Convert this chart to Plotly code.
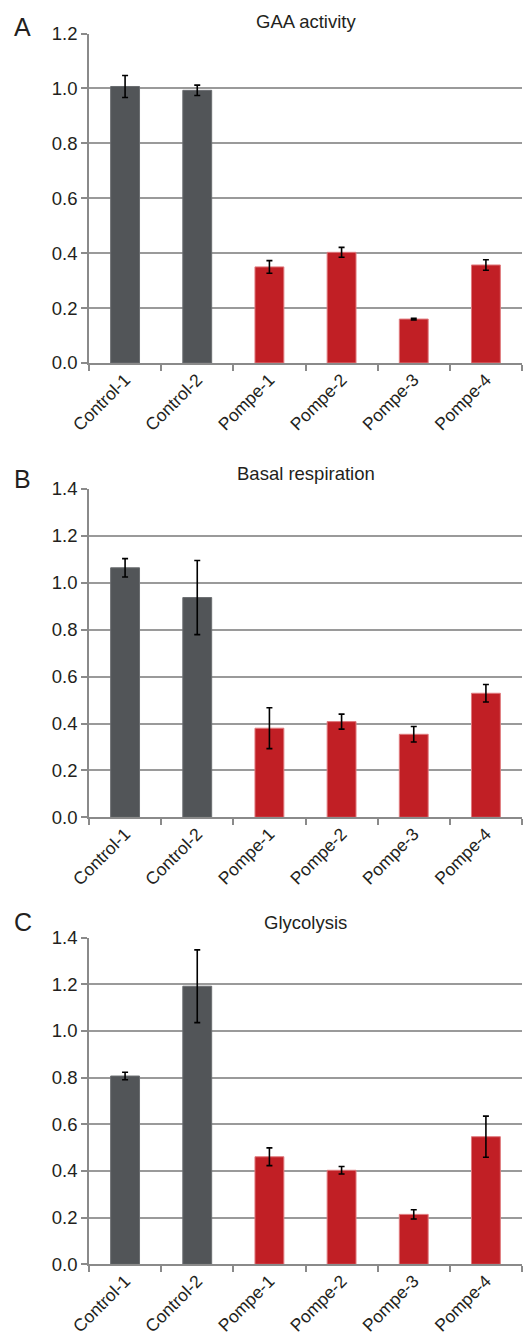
import plotly.graph_objects as go

categories = ["Control-1", "Control-2", "Pompe-1", "Pompe-2", "Pompe-3", "Pompe-4"]

gaa_values = [1.007, 0.993, 0.350, 0.403, 0.160, 0.357]
gaa_errors = [0.040, 0.019, 0.023, 0.018, 0.003, 0.019]

basal_values = [1.064, 0.937, 0.380, 0.408, 0.354, 0.529]
basal_errors = [0.039, 0.158, 0.087, 0.032, 0.033, 0.037]

glyco_values = [0.807, 1.192, 0.461, 0.403, 0.214, 0.547]
glyco_errors = [0.016, 0.156, 0.038, 0.016, 0.020, 0.088]

panel_titles = ["GAA activity", "Basal respiration", "Glycolysis"]
panel_letters = ["A", "B", "C"]
y_max = [1.2, 1.4, 1.4]

GRAY = "#525558"
RED = "#c11f25"
bar_colors = [GRAY, GRAY, RED, RED, RED, RED]
bar_lines = ["#6a6d70", "#6a6d70", "#e07a7e", "#e07a7e", "#e07a7e", "#e07a7e"]

W, H = 523, 1338
# page pixel positions (top of range, zero line) of each panel
panel_px = [(33.5, 363.0), (489.0, 817.3), (937.7, 1264.3)]
title_px = [21, 473, 922]
letter_px = [27, 479, 922]

FONT = "Liberation Sans, Arial, sans-serif"
TXT = "#231f20"
GRID = "#9a9a9a"
AX = "#8a8a8a"

LEFT = 89
PLOT_W = W - LEFT - 1

def py(y):
    return 1 - y / H

fig = go.Figure()
series = [(gaa_values, gaa_errors), (basal_values, basal_errors), (glyco_values, glyco_errors)]

layout = dict(
    width=W, height=H,
    margin=dict(l=LEFT, r=1, t=0, b=0, autoexpand=False),
    paper_bgcolor="white", plot_bgcolor="white",
    showlegend=False,
    bargap=0.6,
    font=dict(family=FONT, size=18, color=TXT),
)
annotations = []
for i, (vals, errs) in enumerate(series):
    sfx = "" if i == 0 else str(i + 1)
    fig.add_trace(go.Bar(
        x=categories, y=vals,
        marker=dict(color=bar_colors, line=dict(color=bar_lines, width=1)),
        error_y=dict(type="data", array=errs, visible=True, color="black",
                     thickness=1.6, width=3),
        xaxis="x" + sfx, yaxis="y" + sfx,
    ))
    top, zero = panel_px[i]
    layout["xaxis" + sfx] = dict(
        domain=[0, 1], anchor="y" + sfx, type="category", automargin=False,
        range=[-0.5, 5.5], tickangle=-45,
        ticks="outside", tickson="boundaries", ticklen=6, tickwidth=1.5, tickcolor=AX,
        showline=True, linecolor=AX, linewidth=1.5, ticklabelstandoff=-2,
        showgrid=False, tickfont=dict(size=17.5, color=TXT, family=FONT),
    )
    layout["yaxis" + sfx] = dict(
        domain=[py(zero), py(top)], anchor="x" + sfx, automargin=False,
        range=[0, y_max[i]], dtick=0.2, tickformat=".1f",
        ticks="outside", ticklen=6, tickwidth=1.5, tickcolor=AX,
        showline=True, linecolor=AX, linewidth=1.5,
        showgrid=True, gridcolor=GRID, gridwidth=1.5, zeroline=False,
        tickfont=dict(size=18.5, color=TXT, family=FONT),
    )
    annotations.append(dict(
        text=panel_titles[i], xref="paper", yref="paper",
        x=0.5, y=py(title_px[i]), xanchor="center", yanchor="middle",
        showarrow=False, font=dict(size=18.5, color=TXT, family=FONT),
    ))
    annotations.append(dict(
        text=panel_letters[i], xref="paper", yref="paper",
        x=(12 - LEFT) / PLOT_W, y=py(letter_px[i]), xanchor="left", yanchor="middle",
        showarrow=False, font=dict(size=25, color=TXT, family=FONT),
    ))

layout["annotations"] = annotations
fig.update_layout(**layout)
fig.write_html(
    "out.html",
    config={"displayModeBar": False},
    post_script="document.body.style.margin='0px';document.body.style.overflow='hidden';",
)
